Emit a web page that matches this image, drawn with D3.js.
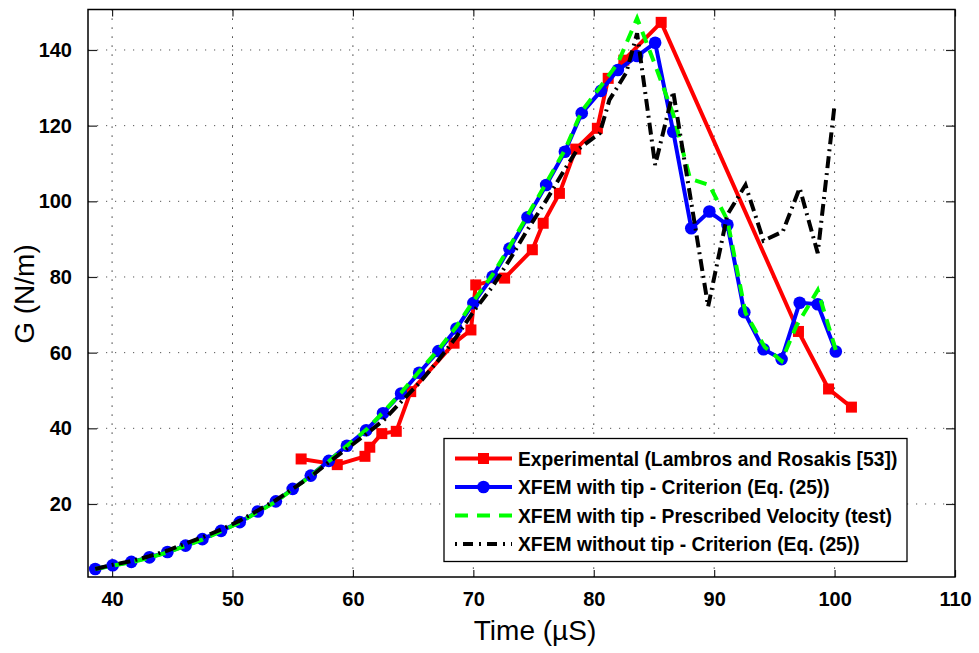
<!DOCTYPE html>
<html><head><meta charset="utf-8">
<script src="https://cdn.jsdelivr.net/npm/d3@7"></script>
<style>
html,body{margin:0;padding:0;background:#fff;}
svg{display:block;font-family:"Liberation Sans",Arial,Helvetica,sans-serif;}
</style></head>
<body>
<svg id="chart" width="979" height="653"></svg>
<script>
// ---- data ----
const xTicks = [40, 50, 60, 70, 80, 90, 100, 110];
const yTicks = [20, 40, 60, 80, 100, 120, 140];

const expTime = [55.7, 58.7, 61.0, 61.4, 62.4, 63.6, 64.8, 68.4, 69.8, 70.2, 72.6, 74.9, 75.8, 77.15, 78.5, 80.3, 81.2, 82.5, 85.6, 97.0, 99.5, 101.4];
const expG    = [31.9, 30.4, 32.6, 35.0, 38.6, 39.2, 49.7, 62.5, 66.0, 77.9, 79.7, 87.2, 94.2, 102.1, 113.8, 119.3, 132.5, 137.3, 147.3, 65.6, 50.4, 45.6];

const tipTime = [38.6, 40.05, 41.6, 43.1, 44.6, 46.1, 47.5, 49.05, 50.6, 52.1, 53.6, 55.0, 56.5, 58.0, 59.5, 61.1, 62.5, 64.0, 65.5, 67.1, 68.6, 70.0, 71.6, 73.0, 74.5, 76.05, 77.6, 79.0, 80.6, 82.0, 83.6, 85.1, 86.6, 88.1, 89.6, 91.1, 92.5, 94.1, 95.6, 97.1, 98.6, 100.1];
const tipG    = [2.8, 3.8, 4.7, 5.9, 7.3, 9.0, 10.7, 12.9, 15.2, 18.0, 20.7, 24.0, 27.5, 31.4, 35.4, 39.5, 44.0, 49.2, 54.7, 60.4, 66.4, 73.1, 80.1, 87.5, 95.8, 104.3, 113.1, 123.3, 129.2, 134.7, 138.4, 141.9, 118.4, 92.9, 97.3, 93.8, 70.7, 60.9, 58.3, 73.2, 72.8, 60.3];

const velTime = [38.6, 40.05, 41.6, 43.1, 44.6, 46.1, 47.5, 49.05, 50.6, 52.1, 53.6, 55.0, 56.5, 58.0, 59.5, 61.1, 62.5, 64.0, 65.5, 67.1, 68.6, 70.0, 71.6, 73.0, 74.5, 76.05, 77.6, 79.0, 80.6, 82.0, 83.6, 85.1, 86.6, 88.0, 89.6, 91.1, 92.6, 94.2, 95.6, 96.8, 98.6, 100.1];
const velG    = [2.8, 3.7, 4.6, 5.8, 7.2, 8.9, 10.6, 12.8, 15.1, 17.9, 20.6, 23.9, 27.4, 31.3, 35.4, 39.6, 44.2, 49.4, 55.0, 60.8, 66.9, 73.6, 80.6, 88.0, 96.3, 104.8, 113.6, 123.8, 130.5, 136.5, 148.4, 136.0, 123.0, 106.0, 104.3, 95.0, 70.5, 61.5, 57.8, 66.9, 76.5, 60.7];

const noTipTime = [38.6, 40.0, 41.6, 43.1, 44.6, 46.1, 47.5, 49.1, 50.6, 52.1, 53.6, 55.0, 56.5, 57.9, 59.5, 61.0, 62.6, 64.0, 65.6, 67.1, 68.6, 70.0, 71.6, 73.1, 74.5, 76.1, 77.6, 78.6, 80.5, 81.3, 82.7, 83.6, 85.1, 86.6, 89.5, 91.1, 92.6, 94.1, 95.7, 97.1, 98.6, 100.0];
const noTipG    = [2.8, 3.9, 4.9, 6.2, 7.7, 9.5, 11.2, 13.3, 15.6, 18.3, 21.0, 24.0, 27.2, 30.8, 34.6, 38.2, 42.3, 47.0, 52.3, 58.0, 64.2, 70.8, 77.5, 85.0, 92.5, 100.5, 108.5, 113.5, 118.0, 126.8, 134.0, 144.4, 109.6, 129.0, 72.2, 96.5, 104.3, 89.6, 92.0, 103.5, 86.3, 125.5];

const seriesNames = [
  "Experimental (Lambros and Rosakis [53])",
  "XFEM with tip - Criterion (Eq. (25))",
  "XFEM with tip - Prescribed Velocity (test)",
  "XFEM without tip - Criterion (Eq. (25))"
];

// ---- layout ----
const L = 88, R = 955, T = 9.5, B = 577;
const svg = d3.select("#chart");
const x = d3.scaleLinear().domain([38, 110]).range([L, R]);
const y = d3.scaleLinear().domain([0.7, 150.7]).range([B, T]);

// grid
const grid = svg.append("g");
grid.selectAll("line.vg").data(xTicks.filter(d => d > 38 && d < 110)).enter().append("line")
  .attr("x1", d => x(d)).attr("x2", d => x(d)).attr("y1", T).attr("y2", B)
  .attr("stroke", "#000").attr("stroke-width", 1).attr("stroke-dasharray", "1.2,7.8");
grid.selectAll("line.hg").data(yTicks).enter().append("line")
  .attr("x1", L).attr("x2", R).attr("y1", d => y(d)).attr("y2", d => y(d))
  .attr("stroke", "#555").attr("stroke-width", 1).attr("stroke-dasharray", "1.2,7.8");

// axes
const fontTick = "bold 20px 'Liberation Sans', Arial, sans-serif";
const xAxisB = d3.axisBottom(x).tickValues(xTicks).tickSizeInner(-7).tickSizeOuter(0).tickPadding(15);
const xAxisT = d3.axisTop(x).tickValues(xTicks).tickSizeInner(-7).tickSizeOuter(0).tickFormat("");
const yAxisL = d3.axisLeft(y).tickValues(yTicks).tickSizeInner(-9).tickSizeOuter(0).tickPadding(16);
const yAxisR = d3.axisRight(y).tickValues(yTicks).tickSizeInner(-9).tickSizeOuter(0).tickFormat("");

function styleAxis(g) {
  g.select(".domain").remove();
  g.selectAll(".tick line").attr("stroke", "#222").attr("stroke-width", 1.2);
  g.selectAll(".tick text").style("font", fontTick).attr("fill", "#000");
}
svg.append("g").attr("transform", `translate(0,${B})`).call(xAxisB).call(styleAxis);
svg.append("g").attr("transform", `translate(0,${T})`).call(xAxisT).call(styleAxis);
svg.append("g").attr("transform", `translate(${L},0)`).call(yAxisL).call(styleAxis);
svg.append("g").attr("transform", `translate(${R},0)`).call(yAxisR).call(styleAxis);

// frame
svg.append("rect").attr("x", L).attr("y", T).attr("width", R - L).attr("height", B - T)
  .attr("fill", "none").attr("stroke", "#000").attr("stroke-width", 1.5);

// clip
svg.append("clipPath").attr("id", "clip").append("rect")
  .attr("x", L).attr("y", T).attr("width", R - L).attr("height", B - T);
const plot = svg.append("g").attr("clip-path", "url(#clip)");

const line = d3.line().x(d => x(d[0])).y(d => y(d[1]));
const zip = (a, b) => a.map((v, i) => [v, b[i]]);

const expData = zip(expTime, expG);
const tipData = zip(tipTime, tipG);
const velData = zip(velTime, velG);
const noTipData = zip(noTipTime, noTipG);

// red experimental
plot.append("path").datum(expData).attr("d", line).attr("fill", "none")
  .attr("stroke", "#ff0000").attr("stroke-width", 4).attr("stroke-linejoin", "round");
plot.selectAll("rect.exp").data(expData).enter().append("rect")
  .attr("x", d => x(d[0]) - 5.5).attr("y", d => y(d[1]) - 5.5)
  .attr("width", 11).attr("height", 11).attr("fill", "#ff0000");

// blue with tip
plot.append("path").datum(tipData).attr("d", line).attr("fill", "none")
  .attr("stroke", "#0000ff").attr("stroke-width", 4).attr("stroke-linejoin", "round");
plot.selectAll("circle.tip").data(tipData).enter().append("circle")
  .attr("cx", d => x(d[0])).attr("cy", d => y(d[1])).attr("r", 6.3).attr("fill", "#0000ff");

// green dashed
plot.append("path").datum(velData).attr("d", line).attr("fill", "none")
  .attr("stroke", "#00ff00").attr("stroke-width", 4).attr("stroke-dasharray", "12,8");

// black dash-dot
plot.append("path").datum(noTipData).attr("d", line).attr("fill", "none")
  .attr("stroke", "#000").attr("stroke-width", 4).attr("stroke-dasharray", "12,5,2,5");

// axis labels
svg.append("text").attr("x", 535).attr("y", 640).attr("text-anchor", "middle")
  .style("font", "28px 'Liberation Sans', Arial, sans-serif").attr("fill", "#000").text("Time (µS)");
svg.append("text").attr("transform", "translate(34,294) rotate(-90)").attr("text-anchor", "middle")
  .style("font", "28px 'Liberation Sans', Arial, sans-serif").attr("fill", "#000").text("G (N/m)");

// legend
const lg = svg.append("g");
lg.append("rect").attr("x", 444).attr("y", 438.5).attr("width", 463).attr("height", 123)
  .attr("fill", "#fff").attr("stroke", "#000").attr("stroke-width", 1.3);
const rowY = [458.5, 487, 515.5, 544];
const styles = [
  {stroke: "#ff0000", dash: null, marker: "square"},
  {stroke: "#0000ff", dash: null, marker: "circle"},
  {stroke: "#00ff00", dash: "13,9", marker: null},
  {stroke: "#000", dash: "2,6,10,6", marker: null}
];
seriesNames.forEach((name, i) => {
  const s = styles[i];
  const ln = lg.append("line").attr("x1", 455).attr("x2", 512).attr("y1", rowY[i]).attr("y2", rowY[i])
    .attr("stroke", s.stroke).attr("stroke-width", 4);
  if (s.dash) ln.attr("stroke-dasharray", s.dash);
  if (s.marker === "square") lg.append("rect").attr("x", 483.5 - 5.5).attr("y", rowY[i] - 5.5)
    .attr("width", 11).attr("height", 11).attr("fill", s.stroke);
  if (s.marker === "circle") lg.append("circle").attr("cx", 483.5).attr("cy", rowY[i]).attr("r", 6.3).attr("fill", s.stroke);
  lg.append("text").attr("x", 518).attr("y", rowY[i] + 7)
    .style("font", "bold 19.3px 'Liberation Sans', Arial, sans-serif").attr("fill", "#000").text(name);
});
</script>
</body></html>
